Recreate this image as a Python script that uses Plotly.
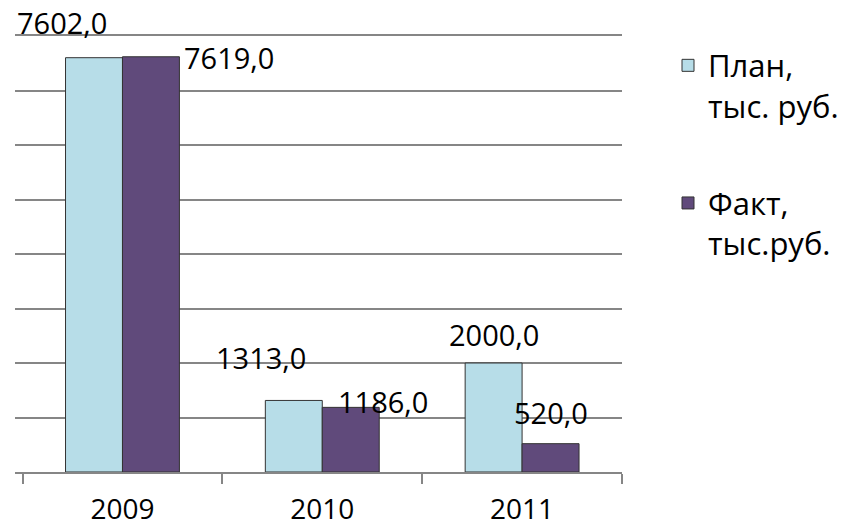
import plotly.graph_objects as go

years = ["2009", "2010", "2011"]
plan = [7602.0, 1313.0, 2000.0]
fact = [7619.0, 1186.0, 520.0]
series_names = ["План,<br>тыс. руб.", "Факт,<br>тыс.руб."]
colors = ["#B7DDE8", "#604A7B"]

FONT = "Open Sans"
FS_LABEL = 29
FS_TICK = 28
FS_LEGEND = 31
BARGAP = 0.43
Y_MAX = 8000

# label offsets (pixels) relative to each bar top centre: (dx, dy up)
plan_offsets = [(-32, 35), (-33, 43), (0, 29)]
fact_offsets = [(78, -1), (32, 6), (0, 31)]

fig = go.Figure()
for name, vals, col, grp in [(series_names[0], plan, colors[0], "a"),
                             (series_names[1], fact, colors[1], "b")]:
    fig.add_trace(go.Bar(
        x=years, y=vals, name=name, legendgroup=grp,
        marker=dict(color=col, line=dict(color="#333333", width=1)),
    ))

half = (1 - BARGAP) / 4
annotations = []
for sign, vals, offs in [(-1, plan, plan_offsets), (1, fact, fact_offsets)]:
    for j, (v, (dx, dy)) in enumerate(zip(vals, offs)):
        annotations.append(dict(x=j + sign * half, y=v, xref="x", yref="y",
                                text=f"{v:.1f}".replace(".", ","), showarrow=False,
                                xanchor="center", yanchor="middle", xshift=dx, yshift=dy,
                                font=dict(family=FONT, size=FS_LABEL, color="#000000")))

fig.update_layout(
    width=846, height=530,
    margin=dict(l=15, r=224, t=36, b=58),
    paper_bgcolor="white", plot_bgcolor="white",
    barmode="group", bargap=BARGAP, bargroupgap=0,
    font=dict(family=FONT, size=FS_TICK, color="#000000"),
    showlegend=True,
    legend=dict(xref="container", yref="container", x=0.7896, y=0.927,
                xanchor="left", yanchor="top", valign="top",
                traceorder="grouped", tracegroupgap=54,
                font=dict(family=FONT, size=FS_LEGEND, color="#000000"),
                bgcolor="rgba(0,0,0,0)"),
    annotations=annotations,
    xaxis=dict(type="category", tickson="boundaries", ticks="outside", ticklen=10,
               tickcolor="#868686", tickwidth=1.5, showline=True, mirror=True,
               linecolor="#868686", linewidth=1.5, showgrid=False, zeroline=False,
               ticklabelstandoff=12,
               tickfont=dict(family=FONT, size=FS_TICK, color="#000000"), automargin=False),
    yaxis=dict(range=[0, Y_MAX], dtick=1000, showticklabels=False, ticks="",
               showgrid=True, gridcolor="#868686", gridwidth=1.5, zeroline=False,
               showline=False, automargin=False),
)

fig.write_html("out.html", config={"displayModeBar": False},
               post_script="document.body.style.margin='0px';")
